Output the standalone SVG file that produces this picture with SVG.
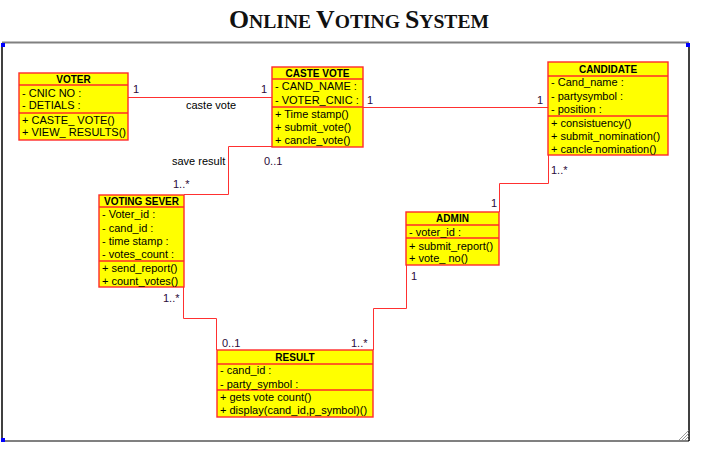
<svg xmlns="http://www.w3.org/2000/svg" width="709" height="471" viewBox="0 0 709 471">
<style>
.box{fill:#ffff00;stroke:#ff2a2a;stroke-width:1.4}
.sep{stroke:#ff2a2a;stroke-width:1.4}
.t{font-family:"Liberation Sans",Arial,sans-serif;font-size:11px;fill:#000}
.h{font-family:"Liberation Sans",Arial,sans-serif;font-size:10px;font-weight:bold;text-anchor:middle;fill:#000}
.conn{fill:none;stroke:#ff3030;stroke-width:1}
.lbl{font-family:"Liberation Sans",Arial,sans-serif;font-size:11px;fill:#2a0a3a}
.ttl{font-family:"Liberation Serif","Times New Roman",serif;font-weight:bold;fill:#111}
.big{font-size:25px}
.sm{font-size:19px}
</style>
<rect width="709" height="471" fill="#fff"/>
<!-- title -->
<text class="ttl" x="229" y="28" textLength="260" lengthAdjust="spacingAndGlyphs"><tspan class="big">O</tspan><tspan class="sm">NLINE </tspan><tspan class="big">V</tspan><tspan class="sm">OTING </tspan><tspan class="big">S</tspan><tspan class="sm">YSTEM</tspan></text>
<!-- frame -->
<g id="frame">
<line x1="2" y1="42.5" x2="689" y2="42.5" stroke="#808080" stroke-width="2"/>
<line x1="2" y1="441" x2="689" y2="441" stroke="#808080" stroke-width="2"/>
<line x1="2" y1="43" x2="2" y2="441" stroke="#000" stroke-width="1.5"/>
<line x1="689" y1="43" x2="689" y2="441" stroke="#000" stroke-width="1.5"/>
<rect x="1" y="43" width="4" height="4" fill="#0000ff"/>
<rect x="1" y="438" width="4" height="4" fill="#0000ff"/>
<rect x="686" y="43" width="4" height="4" fill="#0000ff"/>
<g stroke="#808080" stroke-width="0.8">
<line x1="678" y1="441" x2="689" y2="430"/>
<line x1="681" y1="441" x2="689" y2="433"/>
<line x1="684" y1="441" x2="689" y2="436"/>
<line x1="687" y1="441" x2="689" y2="439"/>
</g>
</g>
<!-- connectors -->
<g id="connectors">
<polyline class="conn" points="128,97.5 272,97.5"/>
<polyline class="conn" points="363,107.5 548,107.5"/>
<polyline class="conn" points="272,146.5 228.5,146.5 228.5,194.5 184,194.5"/>
<polyline class="conn" points="183.5,287 183.5,318.5 216.5,318.5 216.5,350"/>
<polyline class="conn" points="406.5,265 406.5,308.5 373.5,308.5 373.5,350"/>
<polyline class="conn" points="548.5,155 548.5,183.5 499.5,183.5 499.5,212"/>
<text class="lbl" x="133" y="93">1</text>
<text class="lbl" x="261" y="93">1</text>
<text class="t" x="186" y="109">caste vote</text>
<text class="lbl" x="367" y="104">1</text>
<text class="lbl" x="537" y="104">1</text>
<text class="t" x="172" y="165">save result</text>
<text class="lbl" x="264" y="165">0..1</text>
<text class="lbl" x="173" y="188">1..*</text>
<text class="lbl" x="163" y="302">1..*</text>
<text class="lbl" x="222" y="347">0..1</text>
<text class="lbl" x="351" y="347">1..*</text>
<text class="lbl" x="411" y="280">1</text>
<text class="lbl" x="491" y="207">1</text>
<text class="lbl" x="551" y="174">1..*</text>
</g>
<!-- VOTER -->
<g id="voter">
<rect class="box" x="19" y="73" width="109" height="67"/>
<line class="sep" x1="19" y1="85" x2="128" y2="85"/>
<line class="sep" x1="19" y1="113" x2="128" y2="113"/>
<text class="h" x="73.5" y="82.5">VOTER</text>
<text class="t" x="22" y="97">- CNIC NO :</text>
<text class="t" x="22" y="109">- DETIALS :</text>
<text class="t" x="22" y="124">+ CASTE_ VOTE()</text>
<text class="t" x="22" y="136">+ VIEW_ RESULTS()</text>
</g>
<!-- CASTE VOTE -->
<g id="caste-vote">
<rect class="box" x="272" y="67" width="91" height="80"/>
<line class="sep" x1="272" y1="79" x2="363" y2="79"/>
<line class="sep" x1="272" y1="107" x2="363" y2="107"/>
<text class="h" x="317.5" y="76.5">CASTE VOTE</text>
<text class="t" x="275" y="90">- CAND_NAME :</text>
<text class="t" x="275" y="104">- VOTER_CNIC :</text>
<text class="t" x="275" y="117.5">+ Time stamp()</text>
<text class="t" x="275" y="131">+ submit_vote()</text>
<text class="t" x="275" y="144">+ cancle_vote()</text>
</g>
<!-- CANDIDATE -->
<g id="candidate">
<rect class="box" x="548" y="62" width="120" height="93"/>
<line class="sep" x1="548" y1="76" x2="668" y2="76"/>
<line class="sep" x1="548" y1="116" x2="668" y2="116"/>
<text class="h" x="608" y="72.5">CANDIDATE</text>
<text class="t" x="551" y="86">- Cand_name :</text>
<text class="t" x="551" y="99.5">- partysymbol :</text>
<text class="t" x="551" y="113">- position :</text>
<text class="t" x="551" y="126.5">+ consistuency()</text>
<text class="t" x="551" y="140">+ submit_nomination()</text>
<text class="t" x="551" y="153">+ cancle nomination()</text>
</g>
<!-- VOTING SEVER -->
<g id="voting-sever">
<rect class="box" x="99" y="195" width="85" height="92"/>
<line class="sep" x1="99" y1="207" x2="184" y2="207"/>
<line class="sep" x1="99" y1="261" x2="184" y2="261"/>
<text class="h" x="141.5" y="204.5">VOTING SEVER</text>
<text class="t" x="102" y="218">- Voter_id :</text>
<text class="t" x="102" y="232">- cand_id :</text>
<text class="t" x="102" y="244.5">- time stamp :</text>
<text class="t" x="102" y="258">- votes_count :</text>
<text class="t" x="102" y="272">+ send_report()</text>
<text class="t" x="102" y="285">+ count_votes()</text>
</g>
<!-- ADMIN -->
<g id="admin">
<rect class="box" x="406" y="212" width="93" height="53"/>
<line class="sep" x1="406" y1="225" x2="499" y2="225"/>
<line class="sep" x1="406" y1="238" x2="499" y2="238"/>
<text class="h" x="452.5" y="222">ADMIN</text>
<text class="t" x="409" y="236">- voter_id :</text>
<text class="t" x="409" y="250">+ submit_report()</text>
<text class="t" x="409" y="262">+ vote_ no()</text>
</g>
<!-- RESULT -->
<g id="result">
<rect class="box" x="217" y="350" width="156" height="67"/>
<line class="sep" x1="217" y1="364" x2="373" y2="364"/>
<line class="sep" x1="217" y1="390" x2="373" y2="390"/>
<text class="h" x="295" y="360.5">RESULT</text>
<text class="t" x="220" y="374">- cand_id :</text>
<text class="t" x="220" y="388">- party_symbol :</text>
<text class="t" x="220" y="401">+ gets vote count()</text>
<text class="t" x="220" y="414">+ display(cand_id,p_symbol)()</text>
</g>
</svg>
